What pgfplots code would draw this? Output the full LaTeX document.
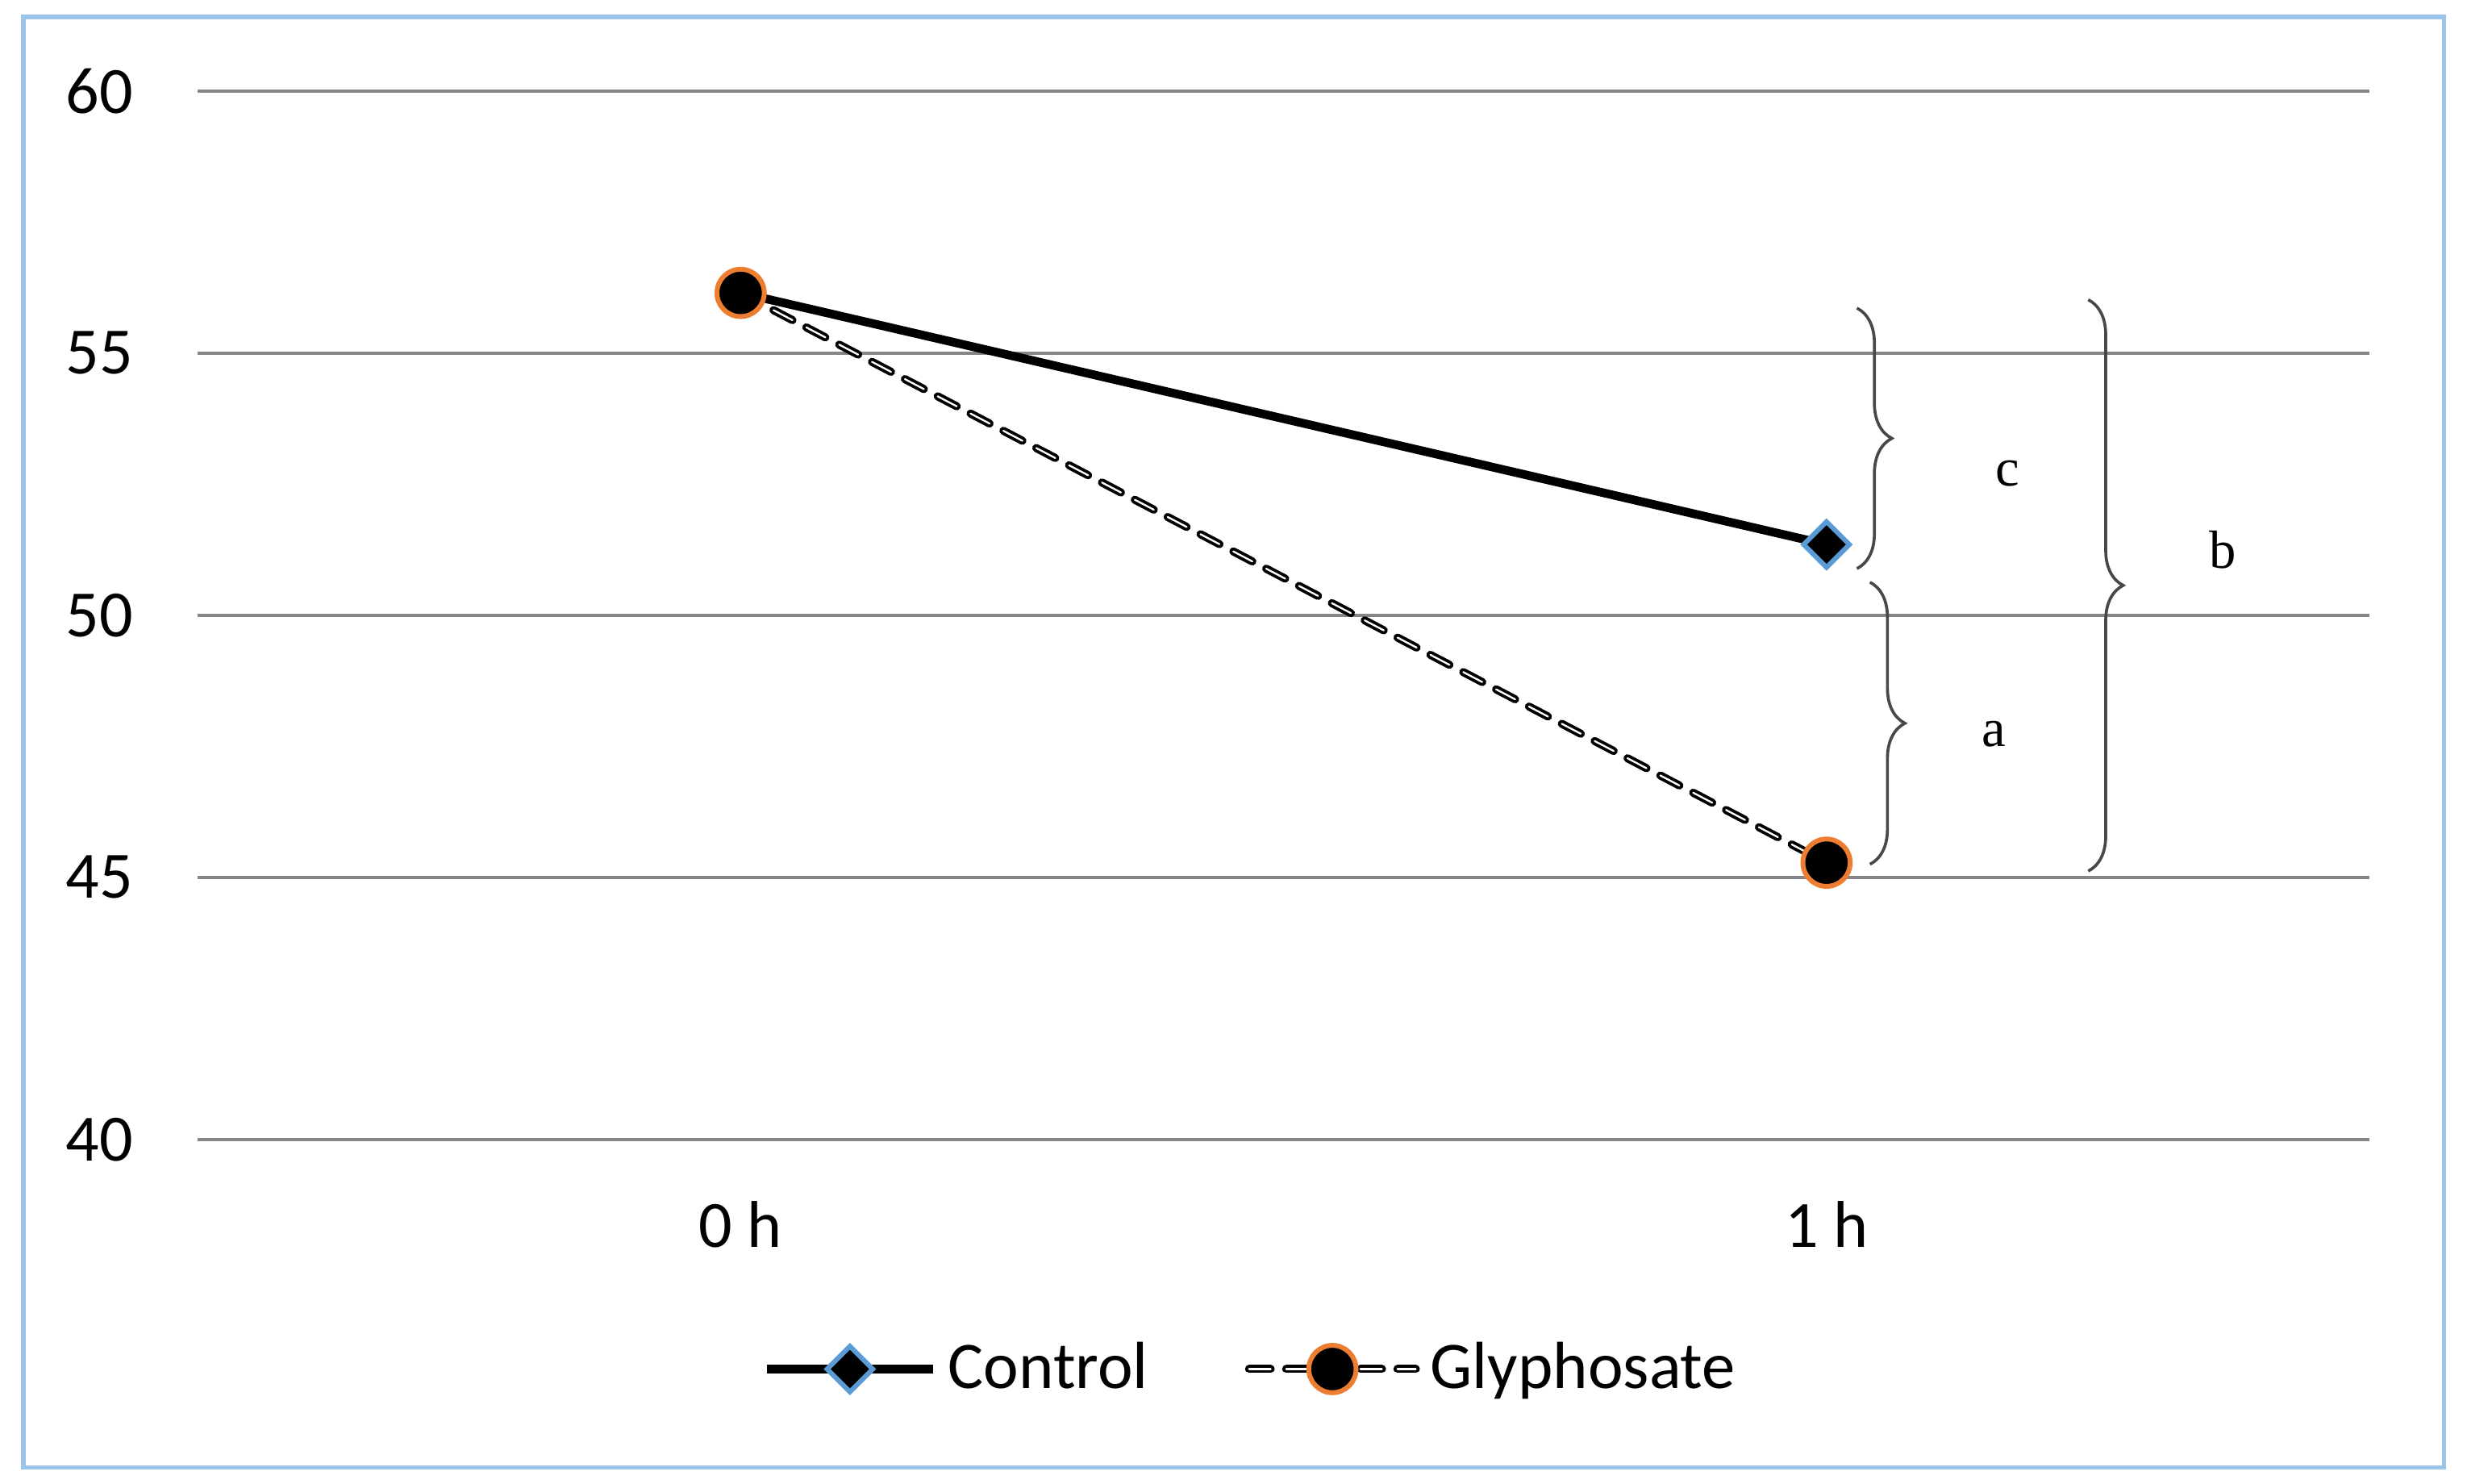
\documentclass[border=0pt]{standalone}
\usepackage{fontspec}
\setmainfont{Carlito}
\newfontfamily\seriffont{Liberation Serif}
\usepackage{pgfplots}
\pgfplotsset{compat=1.18}
\usetikzlibrary{decorations.pathreplacing}
\definecolor{gridgray}{RGB}{134,134,134}
\definecolor{mkblue}{RGB}{91,155,213}
\definecolor{mkorange}{RGB}{237,125,49}
\definecolor{frameblue}{RGB}{157,195,235}
\definecolor{bracegray}{RGB}{72,72,72}
\pgfplotsset{
  glylegend/.style={legend image code/.code={
    \draw[black, line width=1.5pt, dash pattern=on 4pt off 2.9pt, line cap=round] (0pt,0pt) -- (31pt,0pt);
    \draw[white, line width=0.35pt, dash pattern=on 4pt off 2.9pt, line cap=round] (0pt,0pt) -- (31pt,0pt);
    \draw[##1] plot coordinates {(15.5pt,0pt)};
  }}
}
\begin{document}
\begin{tikzpicture}
\begin{axis}[
  scale only axis, width=404pt, height=195pt,
  xmin=-0.5, xmax=1.5, ymin=40, ymax=60,
  xtick={0,1}, xticklabels={0 h, 1 h},
  ytick={40,45,50,55,60},
  axis line style={draw=none},
  major tick length=0pt,
  ymajorgrids, grid style={gridgray, line width=0.6pt},
  tick label style={font=\fontsize{12.3}{14}\selectfont},
  /pgf/number format/assume math mode=true,
  xticklabel shift=8pt, yticklabel shift=8.5pt,
  clip=false,
  legend style={draw=none, fill=none, at={(0.4865,-0.219)}, anchor=center,
    legend columns=2, font=\fontsize{12.4}{14}\selectfont,
    /tikz/every even column/.append style={column sep=16pt},
    /tikz/every odd column/.append style={column sep=0pt}},
  legend image code/.code={\draw[mark repeat=2,mark phase=2,#1] plot coordinates {(0pt,0pt) (15.5pt,0pt) (31pt,0pt)};},
]
% frame and page bounds
\path (rel axis cs:-0.0910,-0.3285) rectangle (rel axis cs:1.0449,1.0869);
\draw[frameblue, line width=0.8pt] (rel axis cs:-0.0802,-0.3131) rectangle (rel axis cs:1.0342,1.0708);

% Glyphosate outlined dashed line
\addplot[black, line width=1.5pt, dash pattern=on 4pt off 2.9pt, line cap=round, forget plot] coordinates {(0,56.15) (1,45.28)};
\addplot[white, line width=0.35pt, dash pattern=on 4pt off 2.9pt, line cap=round, forget plot] coordinates {(0,56.15) (1,45.28)};

% Control
\addplot[black, line width=1.6pt, mark=square*, mark size=3pt,
  mark options={fill=black, draw=mkblue, line width=0.9pt, rotate=45, solid}]
  coordinates {(0,56.15) (1,51.35)};
\addlegendentry{Control}

% Glyphosate markers
\addplot[only marks, mark=*, mark size=4.4pt,
  mark options={fill=black, draw=mkorange, line width=0.9pt, solid}, glylegend]
  coordinates {(0,56.15) (1,45.28)};
\addlegendentry{Glyphosate}

% braces
\draw[bracegray, line width=0.55pt, decorate, decoration={brace, amplitude=6.5pt}] (axis cs:1.028,55.86) -- (axis cs:1.028,50.89);
\draw[bracegray, line width=0.55pt, decorate, decoration={brace, amplitude=6.5pt}] (axis cs:1.040,50.63) -- (axis cs:1.040,45.25);
\draw[bracegray, line width=0.55pt, decorate, decoration={brace, amplitude=6.5pt}] (axis cs:1.241,56.02) -- (axis cs:1.241,45.12);
\node[font=\seriffont\fontsize{10}{12}\selectfont] at (axis cs:1.167,52.71) {c};
\node[font=\seriffont\fontsize{10}{12}\selectfont] at (axis cs:1.154,47.74) {a};
\node[font=\seriffont\fontsize{10}{12}\selectfont] at (axis cs:1.365,51.25) {b};
\end{axis}
\end{tikzpicture}
\end{document}
